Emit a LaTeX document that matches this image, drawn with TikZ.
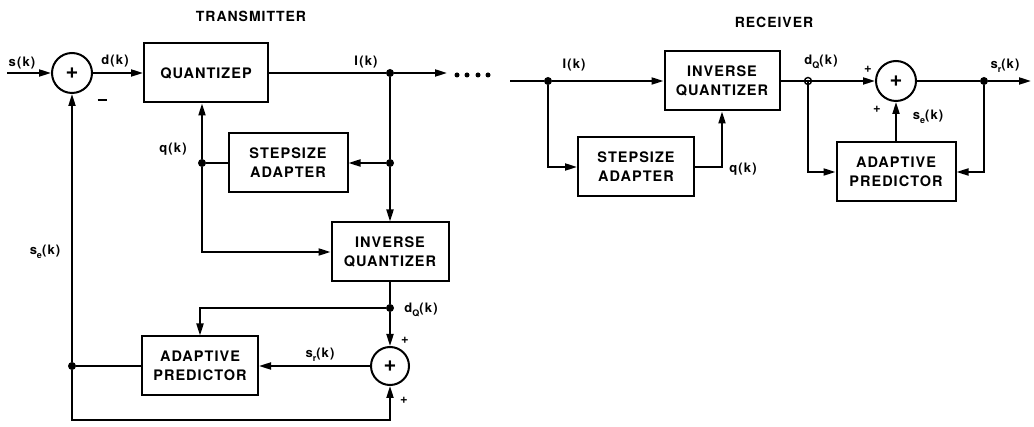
\documentclass[tikz,border=0pt]{standalone}
\usepackage{fontspec}
\setmainfont{TeX Gyre Heros}
\newfontfamily\blkfont[LetterSpace=7]{TeX Gyre Heros}
\newfontfamily\lblfont[LetterSpace=9]{TeX Gyre Heros}
\usetikzlibrary{arrows.meta}
\newcommand\mysub[1]{\raisebox{-3.5pt}{\fontsize{9}{9}\selectfont #1}}
\begin{document}
\begin{tikzpicture}[x=1pt,y=-1pt,
  blk/.style={draw, line width=2pt, inner sep=0pt, minimum height=59pt, align=center,
              font=\blkfont\fontsize{14.5}{19}\selectfont\bfseries},
  sumn/.style={draw, circle, line width=2pt, minimum size=40pt, inner sep=0pt,
               font=\fontsize{22}{22}\selectfont\bfseries},
  wire/.style={line width=2pt},
  arr/.style={wire, -{Triangle[length=12pt,width=7pt]}},
  jdot/.style={circle, fill, inner sep=0pt, minimum size=8pt},
  odot/.style={circle, draw, line width=1.4pt, inner sep=0pt, minimum size=7pt},
  sdot/.style={circle, fill, inner sep=0pt, minimum size=5pt},
  lbl/.style={font=\lblfont\fontsize{13}{15}\selectfont\bfseries},
  ttl/.style={font=\blkfont\fontsize{14}{16}\selectfont\bfseries}]
\useasboundingbox (0,0) rectangle (1034,427);

% ---------- transmitter ----------
\node[ttl] (ttx) at (251,16) {TRANSMITTER};
\coordinate (in) at (7,73);
\node[sumn] (sum1) at (72,73) {+};
\node[blk, minimum width=124pt] (quant) at (206,73) {QUANTIZEP};
\node[blk, minimum width=119pt] (stepT) at (288,163) {STEPSIZE\\ADAPTER};
\node[blk, minimum width=117pt] (invqT) at (390,252) {INVERSE\\QUANTIZER};
\node[blk, minimum width=116pt] (predT) at (200,366) {ADAPTIVE\\PREDICTOR};
\node[sumn, minimum size=38pt] (sum2) at (390,366) {+};
\node[jdot] (jI) at (390,73) {};
\node[jdot] (jS) at (390,163) {};
\node[jdot] (jQ) at (202,163) {};
\node[jdot] (jD) at (390,308) {};
\node[jdot] (jE) at (72,366) {};
\coordinate (txend) at (447,73);
\coordinate (bl) at (72,420);
\coordinate (br) at (390,420);
\node[sdot] (p1) at (457,75) {};
\node[sdot] (p2) at (467,75) {};
\node[sdot] (p3) at (478,75) {};
\node[sdot] (p4) at (488,75) {};

\draw[arr] (in) -- (sum1);
\draw[arr] (sum1) -- (quant);
\draw[wire] (quant.east) -- (jI);
\draw[arr] (jI) -- (txend);
\draw[wire] (jI) -- (jS);
\draw[arr] (jS) -- (stepT.east);
\draw[arr] (jS) -- (invqT);
\draw[wire] (stepT.west) -- (jQ);
\draw[arr] (jQ) -- (jQ |- quant.south);
\draw[arr] (jQ) |- (invqT.west);
\draw[wire] (invqT.south) -- (jD);
\draw[arr] (jD) -| (predT.north);
\draw[arr] (jD) -- (sum2);
\draw[arr] (sum2) -- (predT);
\draw[wire] (predT.west) -- (jE);
\draw[arr] (jE) -- (sum1);
\draw[arr] (jE) -- (bl) -- (br) -- (sum2);

\node[lbl] (lsk) at (22,63) {s(k)};
\node[lbl] (ldk) at (115,61) {d(k)};
\node (lmin) at (102,100) {\rule{9pt}{2pt}};
\node[lbl] (lIk) at (366,62) {I(k)};
\node[lbl] (lqk) at (173,149) {q(k)};
\node[lbl] (lse) at (45,252) {s\mysub{e}(k)};
\node[lbl] (lsr) at (320,355) {s\mysub{r}(k)};
\node[lbl] (ldq) at (421,310) {d\mysub{Q}(k)};
\node[lbl] (lp1) at (405,340) {+};
\node[lbl] (lp2) at (404,400) {+};

% ---------- receiver ----------
\node[ttl] (trx) at (774,22) {RECEIVER};
\coordinate (rin) at (510,81);
\node[jdot] (jIr) at (548,81) {};
\node[blk, minimum width=115pt] (invqR) at (722,81) {INVERSE\\QUANTIZER};
\node[blk, minimum width=116pt] (stepR) at (636,167) {STEPSIZE\\ADAPTER};
\node[sumn] (sum3) at (896,81) {+};
\node[blk, minimum width=119pt] (predR) at (896,172) {ADAPTIVE\\PREDICTOR};
\coordinate (jDr) at (808,81);
\node[jdot] (jO) at (984,81) {};
\coordinate (rout) at (1031,81);

\draw[wire] (rin) -- (jIr);
\draw[arr] (jIr) -- (invqR);
\draw[arr] (jIr) |- (stepR.west);
\draw[arr] (stepR.east) -| (invqR.south);
\draw[wire] (invqR.east) -- (jDr);
\draw[arr] (jDr) -- (sum3);
\draw[arr] (jDr) |- (predR.west);
\draw[wire] (sum3) -- (jO);
\draw[arr] (jO) -- (rout);
\draw[arr] (jO) |- (predR.east);
\draw[arr] (predR) -- (sum3);
\node[odot] (jDrc) at (jDr) {};

\node[lbl] (lIr) at (574,65) {I(k)};
\node[lbl] (lqr) at (743,169) {q(k)};
\node[lbl] (ldqr) at (821,62) {d\mysub{Q}(k)};
\node[lbl] (lp3) at (868,69) {+};
\node[lbl] (lp4) at (877,109) {+};
\node[lbl] (lser) at (928,117) {s\mysub{e}(k)};
\node[lbl] (lsrr) at (1005,66) {s\mysub{r}(k)};
\end{tikzpicture}
\end{document}
